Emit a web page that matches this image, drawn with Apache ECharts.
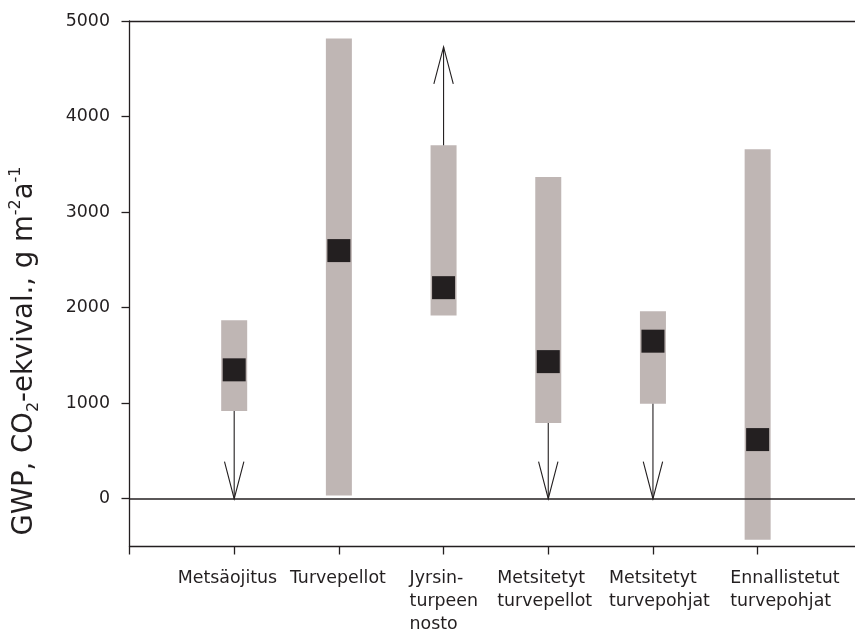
<!DOCTYPE html>
<html>
<head>
<meta charset="utf-8">
<script src="https://cdn.jsdelivr.net/npm/echarts@6/dist/echarts.min.js"></script>
<style>
html,body{margin:0;padding:0;background:#fff;}
#main{width:855px;height:635px;}
</style>
</head>
<body>
<div id="main"></div>
<script>
const categories = ['Metsäojitus', 'Turvepellot', 'Jyrsin-\nturpeen\nnosto', 'Metsitetyt\nturvepellot', 'Metsitetyt\nturvepohjat', 'Ennallistetut\nturvepohjat'];
const rangeLow  = [917, 35, 1919, 792, 995, -429];
const rangeHigh = [1867, 4817, 3700, 3368, 1961, 3658];
const midValue  = [1349, 2597, 2209, 1435, 1649, 619];
const arrowFrom = [917, null, 3700, 792, 995, null];
const arrowTo   = [0, null, 4729, 0, 0, null];
const yTicks = [0, 1000, 2000, 3000, 4000, 5000];
const xTicks = [0, 1, 2, 3, 4, 5, 6];

const FONT = 'DejaVu Sans';
const FS = 17.4;
const TFS = 27.5;
const INK = '#231f20';
const GRAY = '#bfb6b4';
const GRID_LEFT = 129.5, GRID_RIGHT = 0, X_MAX = 6.93, CHART_W = 855;
// horizontal shift (px) of each label block relative to its tick (layout only)
const labelShift = [-6, 0, 1, -3, 7, 28];
const pxPerUnit = (CHART_W - GRID_LEFT - GRID_RIGHT) / X_MAX;
const xLabelPos = labelShift.map((s, i) => (i + 1) + s / pxPerUnit);

const cv = document.createElement('canvas').getContext('2d');
cv.font = FS + 'px "' + FONT + '"';
const rich = {};
categories.forEach((c, i) => {
  const w = Math.ceil(Math.max(...c.split('\n').map(l => cv.measureText(l).width))) + 1;
  rich['c' + (i + 1)] = {width: w, align: 'left', fontFamily: FONT, fontSize: FS, color: INK, lineHeight: 23};
});

const barData = categories.map((c, i) => [i + 1, rangeLow[i], rangeHigh[i]]);
const midData = categories.map((c, i) => [i + 1, midValue[i]]);
const arrowData = [];
categories.forEach((c, i) => { if (arrowFrom[i] !== null) arrowData.push([i + 1, arrowFrom[i], arrowTo[i]]); });

const chart = echarts.init(document.getElementById('main'), null, {renderer: 'canvas'});
chart.setOption({
  animation: false,
  backgroundColor: '#fff',
  textStyle: {fontFamily: FONT, color: INK},
  grid: {left: GRID_LEFT, top: 21, bottom: 88.5, right: GRID_RIGHT, containLabel: false},
  xAxis: [{
    type: 'value', position: 'bottom', min: 0, max: X_MAX,
    axisLine: {show: true, onZero: false, lineStyle: {color: INK, width: 1.3}},
    axisTick: {show: true, length: 8, customValues: xTicks, lineStyle: {color: INK, width: 1.3}},
    splitLine: {show: false},
    axisLabel: {
      show: true, margin: 20, customValues: xLabelPos, hideOverlap: false,
      formatter: v => {
        const k = Math.round(v);
        return categories[k - 1].split('\n').map(l => '{c' + k + '|' + l + '}').join('\n');
      },
      rich: rich
    }
  }, {
    type: 'value', position: 'top', min: 0, max: X_MAX,
    axisLine: {show: true, onZero: false, lineStyle: {color: INK, width: 1.3}},
    axisTick: {show: false}, axisLabel: {show: false}, splitLine: {show: false}
  }],
  yAxis: {
    type: 'value', min: -500, max: 5000,
    axisLine: {show: true, onZero: false, lineStyle: {color: INK, width: 1.3}},
    axisTick: {show: true, length: 8, customValues: yTicks, lineStyle: {color: INK, width: 1.3}},
    axisLabel: {show: true, margin: 19.5, customValues: yTicks, fontFamily: FONT, fontSize: FS, color: INK,
      formatter: v => String(v)},
    splitLine: {show: false}
  },
  graphic: [{
    type: 'text', x: 24.5, y: 351, rotation: Math.PI / 2, silent: true,
    style: {
      text: '{n|GWP, CO}{sub|2}{n|-ekvival., g m}{sup|-2}{n|a}{sup|-1}',
      align: 'center', verticalAlign: 'middle',
      rich: {
        n: {fontFamily: FONT, fontSize: TFS, fill: INK, lineHeight: 34},
        sub: {fontFamily: FONT, fontSize: 16, fill: INK, lineHeight: 14, verticalAlign: 'bottom'},
        sup: {fontFamily: FONT, fontSize: 16, fill: INK, lineHeight: 14, verticalAlign: 'top'}
      }
    }
  }],
  series: [{
    type: 'custom', name: 'range', data: barData,
    encode: {x: 0, y: [1, 2]}, z: 2,
    renderItem: (params, api) => {
      const x = api.value(0);
      const lo = api.coord([x, api.value(1)]);
      const hi = api.coord([x, api.value(2)]);
      return {type: 'rect', shape: {x: lo[0] - 13, y: hi[1], width: 26, height: lo[1] - hi[1]}, style: {fill: GRAY}};
    },
    markLine: {
      silent: true, symbol: 'none', label: {show: false}, z: 3,
      lineStyle: {color: INK, width: 1.6, type: 'solid'},
      data: [{yAxis: 0}]
    }
  }, {
    type: 'custom', name: 'arrows', data: arrowData,
    encode: {x: 0, y: [1, 2]}, z: 4,
    renderItem: (params, api) => {
      const x = api.value(0);
      const a = api.coord([x, api.value(1)]);
      const b = api.coord([x, api.value(2)]);
      const d = b[1] > a[1] ? 1 : -1;
      const hl = 37, hw = 9.7;
      return {type: 'group', children: [
        {type: 'line', shape: {x1: a[0], y1: a[1], x2: b[0], y2: b[1]}, style: {stroke: INK, lineWidth: 1.1}},
        {type: 'polyline', shape: {points: [[b[0] - hw, b[1] - d * hl], [b[0], b[1]], [b[0] + hw, b[1] - d * hl]]}, style: {stroke: INK, lineWidth: 1.1, fill: null}}
      ]};
    }
  }, {
    type: 'scatter', name: 'mid', data: midData, z: 5,
    symbol: 'rect', symbolSize: 23,
    itemStyle: {color: INK, opacity: 1}
  }]
});
</script>
</body>
</html>
